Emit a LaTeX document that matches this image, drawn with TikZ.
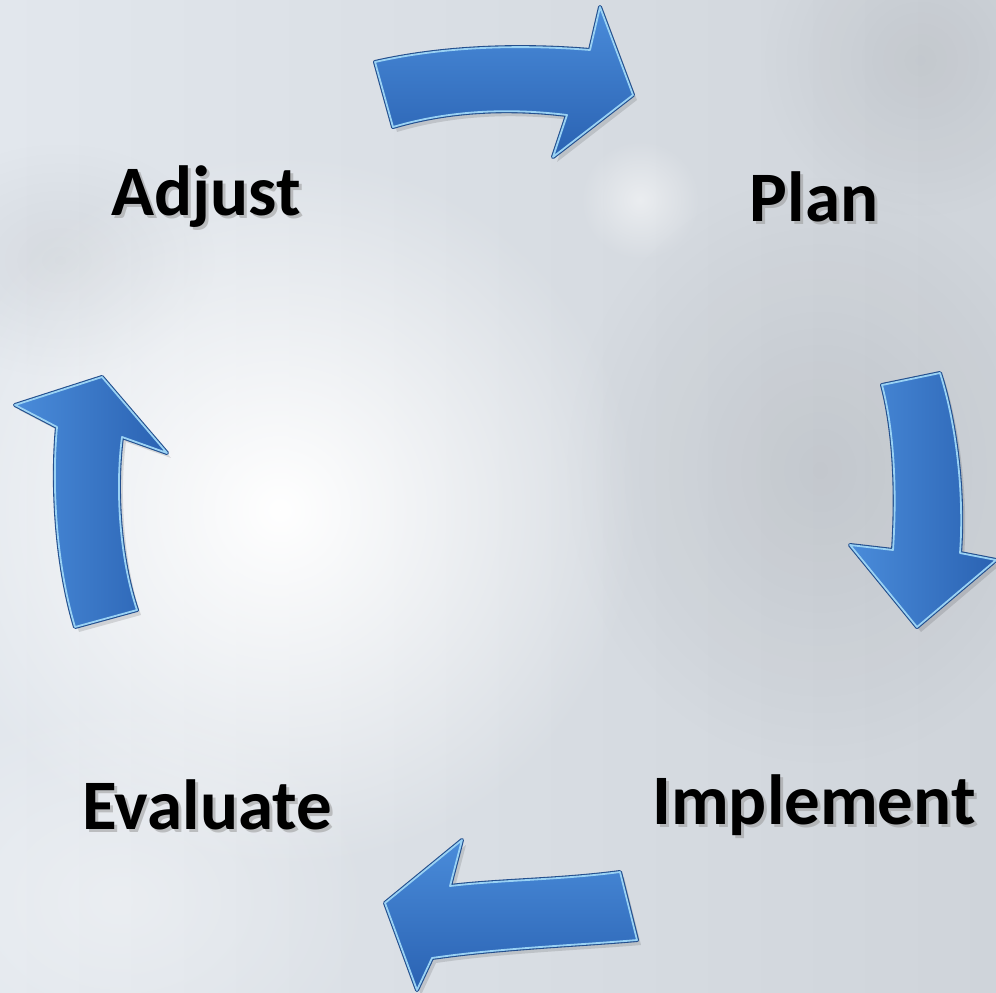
\documentclass[tikz,border=0pt]{standalone}
\usepackage{fontspec}
\setmainfont{Carlito}
\usetikzlibrary{fadings,shadows}
\definecolor{bgA}{HTML}{E2E7ED}
\definecolor{bgB}{HTML}{CFD4DA}
\definecolor{arrA}{HTML}{4A8CDA}
\definecolor{arrB}{HTML}{2A62B2}
\definecolor{rimL}{HTML}{9AD2F4}
\definecolor{rimD}{HTML}{234F8E}
\tikzfading[name=glow, inner color=transparent!0, outer color=transparent!100]
\tikzset{
  lbl/.style={font=\fontsize{71}{80}\selectfont\bfseries, text=black, inner sep=0pt},
  lblshadow/.style={font=\fontsize{71}{80}\selectfont\bfseries, text=black!40, inner sep=0pt, opacity=0.55},
  arrowrim/.style={draw=rimD, line width=4pt, line join=round},
  arrowbody/.style={draw=rimL, line width=1.8pt, line join=round},
  arrowshadow/.style={fill=black, opacity=0.12}
}
\begin{document}
\begin{tikzpicture}[x=1pt,y=-1pt]
\useasboundingbox (0,0) rectangle (996,993);
% background
\shade[left color=bgA, right color=bgB] (0,0) rectangle (996,993);
\fill[white, opacity=0.35, path fading=glow] (120,900) ellipse (260 and 200);
\fill[black, opacity=0.07, path fading=glow] (820,470) ellipse (260 and 300);
\fill[black, opacity=0.06, path fading=glow] (920,60) ellipse (160 and 160);
\fill[black, opacity=0.05, path fading=glow] (60,260) ellipse (160 and 120);
\fill[white, path fading=glow] (280,510) circle (360);
\fill[white, opacity=0.5, path fading=glow] (640,200) circle (60);

% top arrow (Adjust -> Plan)
\def\arrT{(375,62) .. controls (450,45) and (530,45) .. (590,50) -- (600,7) -- (633,95) -- (553,157) -- (567,115) .. controls (510,108) and (450,110) .. (393,127) -- cycle}
% right arrow (Plan -> Implement)
\def\arrR{(882,385) -- (940,373) .. controls (958,430) and (964,500) .. (960,553) -- (996,560) -- (917,627) -- (850,545) -- (893,550) .. controls (897,490) and (894,430) .. (882,385) -- cycle}
% bottom arrow (Implement -> Evaluate)
\def\arrB{(620,872) .. controls (560,880) and (500,880) .. (450,886) -- (462,840) -- (385,903) -- (417,990) -- (432,958) .. controls (500,948) and (580,945) .. (637,940) -- cycle}
% left arrow (Evaluate -> Adjust)
\def\arrL{(75,627) .. controls (55,560) and (52,480) .. (57,427) -- (15,405) -- (102,377) -- (167,453) -- (122,437) .. controls (115,490) and (120,560) .. (137,610) -- cycle}

\foreach \p in {\arrT,\arrR,\arrB,\arrL}{
  \begin{scope}[shift={(4,5)}]
    \fill[arrowshadow] \p;
  \end{scope}
  \draw[arrowrim] \p;
}
\shade[arrowbody, top color=arrA, bottom color=arrB] \arrT;
\shade[arrowbody, left color=arrA, right color=arrB] \arrR;
\shade[arrowbody, top color=arrA, bottom color=arrB] \arrB;
\shade[arrowbody, left color=arrA, right color=arrB] \arrL;

% labels
\node[lblshadow] (adjS) at (209,200) {Adjust};
\node[lbl] (adj) at (206,197) {Adjust};
\node[lblshadow] (planS) at (817,200) {Plan};
\node[lbl] (plan) at (814,197) {Plan};
\node[lblshadow] (evalS) at (210,808) {Evaluate};
\node[lbl] (eval) at (207,805) {Evaluate};
\node[lblshadow] (implS) at (817,808) {Implement};
\node[lbl] (impl) at (814,805) {Implement};
\end{tikzpicture}
\end{document}
